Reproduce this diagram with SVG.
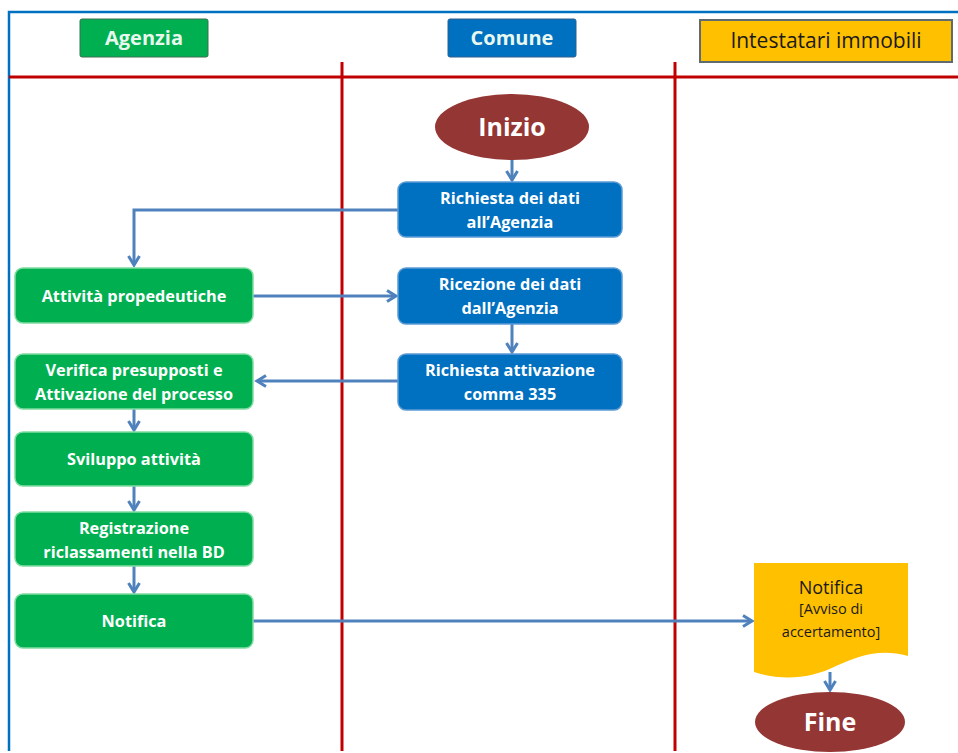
<svg xmlns="http://www.w3.org/2000/svg" width="958" height="753" viewBox="0 0 958 753">
<defs>
<style>
.lane{stroke:#c00000;stroke-width:3;fill:none}
.conn{stroke:#4f81bd;stroke-width:3;fill:none}
.g{fill:#00b050;stroke:#7fdca0;stroke-width:1.5}
.b{fill:#0070c0;stroke:#5b9bd5;stroke-width:1.5}
.t{font-family:"Open Sans","Liberation Sans",sans-serif;font-weight:bold;font-size:16.3px;fill:#ffffff;text-anchor:middle}
.h{font-family:"Open Sans","Liberation Sans",sans-serif;font-weight:bold;font-size:20px;fill:#e8f8ee;text-anchor:middle}
.e{font-family:"Open Sans","Liberation Sans",sans-serif;font-weight:bold;font-size:25px;fill:#ffffff;text-anchor:middle}
.d{font-family:"Open Sans","Liberation Sans",sans-serif;fill:#1a1a1a;text-anchor:middle}
</style>
<marker id="arr" viewBox="0 0 14 14" refX="11" refY="7" markerWidth="14" markerHeight="14" markerUnits="userSpaceOnUse" orient="auto">
<polyline points="2,1.5 11,7 2,12.5" fill="none" stroke="#4f81bd" stroke-width="3"/>
</marker>
</defs>
<rect width="958" height="753" fill="#ffffff"/>
<path d="M9,751 V12 H958" fill="none" stroke="#0070c0" stroke-width="2.5"/>
<g id="lanes">
<line class="lane" x1="9" y1="77" x2="958" y2="77"/>
<line class="lane" x1="342" y1="62" x2="342" y2="751"/>
<line class="lane" x1="675" y1="62" x2="675" y2="751"/>
</g>
<g id="hdr-agenzia">
<rect x="80" y="19" width="128" height="38" rx="2" fill="#00b050" stroke="#3a6e50" stroke-width="1"/>
<text class="h" x="144" y="45">Agenzia</text>
</g>
<g id="hdr-comune">
<rect x="448" y="19" width="128" height="38" rx="2" fill="#0070c0" stroke="#2f5f8f" stroke-width="1"/>
<text class="h" x="512" y="45">Comune</text>
</g>
<g id="hdr-intestatari">
<rect x="700" y="20" width="252" height="42" fill="#ffc000" stroke="#5f6b70" stroke-width="2"/>
<text class="d" x="826" y="48" font-size="21">Intestatari immobili</text>
</g>
<g id="connectors">
<line class="conn" x1="512" y1="160" x2="512" y2="180" marker-end="url(#arr)"/>
<polyline class="conn" points="398,210 134,210 134,265" marker-end="url(#arr)"/>
<line class="conn" x1="253" y1="296" x2="396" y2="296" marker-end="url(#arr)"/>
<line class="conn" x1="512" y1="324" x2="512" y2="352" marker-end="url(#arr)"/>
<line class="conn" x1="398" y1="381" x2="257" y2="381" marker-end="url(#arr)"/>
<line class="conn" x1="134" y1="408" x2="134" y2="430" marker-end="url(#arr)"/>
<line class="conn" x1="134" y1="486" x2="134" y2="510" marker-end="url(#arr)"/>
<line class="conn" x1="134" y1="566" x2="134" y2="592" marker-end="url(#arr)"/>
<line class="conn" x1="253" y1="621" x2="752" y2="621" marker-end="url(#arr)"/>
<line class="conn" x1="830" y1="672" x2="830" y2="690" marker-end="url(#arr)"/>
</g>
<g id="inizio">
<ellipse cx="512" cy="127" rx="77" ry="33" fill="#943634"/>
<text class="e" x="512" y="136">Inizio</text>
</g>
<g id="richiesta-dati">
<rect class="b" x="398" y="182" width="224" height="55" rx="8"/>
<text class="t" x="510" y="204">Richiesta dei dati</text>
<text class="t" x="510" y="228">all’Agenzia</text>
</g>
<g id="ricezione-dati">
<rect class="b" x="398" y="268" width="224" height="56" rx="8"/>
<text class="t" x="510" y="290">Ricezione dei dati</text>
<text class="t" x="510" y="314">dall’Agenzia</text>
</g>
<g id="richiesta-attivazione">
<rect class="b" x="398" y="354" width="224" height="56" rx="8"/>
<text class="t" x="510" y="376">Richiesta attivazione</text>
<text class="t" x="510" y="400">comma 335</text>
</g>
<g id="attivita-propedeutiche">
<rect class="g" x="15" y="268" width="238" height="55" rx="8"/>
<text class="t" x="134" y="302">Attività propedeutiche</text>
</g>
<g id="verifica">
<rect class="g" x="15" y="354" width="238" height="55" rx="8"/>
<text class="t" x="134" y="376">Verifica presupposti e</text>
<text class="t" x="134" y="400">Attivazione del processo</text>
</g>
<g id="sviluppo">
<rect class="g" x="15" y="432" width="238" height="54" rx="8"/>
<text class="t" x="134" y="465">Sviluppo attività</text>
</g>
<g id="registrazione">
<rect class="g" x="15" y="512" width="238" height="54" rx="8"/>
<text class="t" x="134" y="534">Registrazione</text>
<text class="t" x="134" y="558">riclassamenti nella BD</text>
</g>
<g id="notifica-agenzia">
<rect class="g" x="15" y="594" width="238" height="54" rx="8"/>
<text class="t" x="134" y="627">Notifica</text>
</g>
<g id="notifica-doc">
<path d="M754,563 H908 V656 C880,648 858,656 836,666 C808,680 780,680 754,672 Z" fill="#ffc000"/>
<text class="d" x="831" y="594" font-size="18">Notifica</text>
<text class="d" x="831" y="614" font-size="14.5">[Avviso di</text>
<text class="d" x="831" y="637" font-size="14.5">accertamento]</text>
</g>
<g id="fine">
<ellipse cx="830" cy="722" rx="75" ry="30" fill="#943634"/>
<text class="e" x="830" y="731">Fine</text>
</g>
</svg>
